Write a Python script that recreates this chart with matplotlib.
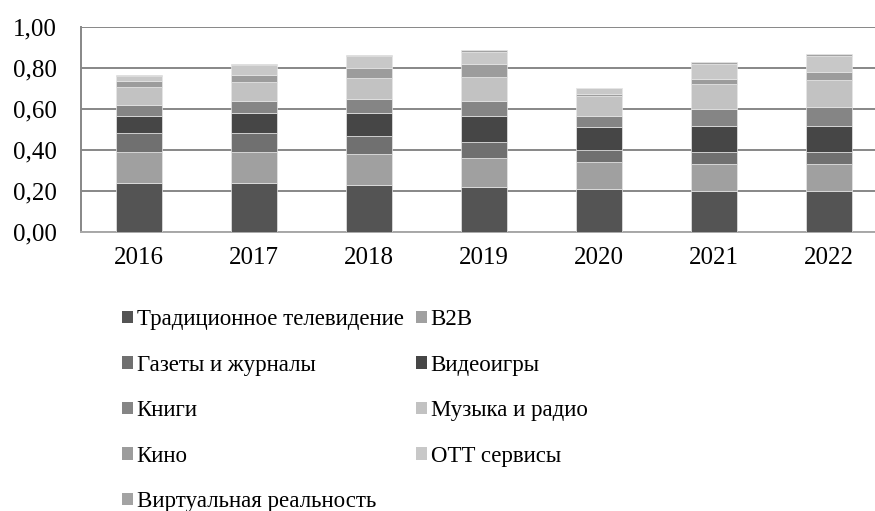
import matplotlib.pyplot as plt
import numpy as np
from matplotlib.patches import Patch

plt.rcParams['font.family'] = ['Liberation Serif', 'DejaVu Serif']

years = ['2016', '2017', '2018', '2019', '2020', '2021', '2022']

# segment values per year, bottom to top
tv = [0.240, 0.240, 0.228, 0.220, 0.211, 0.199, 0.199]
b2b = [0.152, 0.152, 0.152, 0.140, 0.131, 0.132, 0.132]
press = [0.093, 0.093, 0.090, 0.078, 0.059, 0.057, 0.057]
games = [0.083, 0.095, 0.109, 0.127, 0.109, 0.131, 0.131]
books = [0.052, 0.060, 0.069, 0.073, 0.057, 0.080, 0.090]
music = [0.090, 0.090, 0.103, 0.119, 0.095, 0.122, 0.134]
cinema = [0.029, 0.038, 0.051, 0.061, 0.010, 0.026, 0.036]
ott = [0.024, 0.049, 0.055, 0.060, 0.031, 0.073, 0.082]
vr = [0.002, 0.002, 0.007, 0.010, 0.002, 0.008, 0.008]

series = [
    ('Традиционное телевидение', tv, '#545454'),
    ('B2B', b2b, '#a0a0a0'),
    ('Газеты и журналы', press, '#707070'),
    ('Видеоигры', games, '#464646'),
    ('Книги', books, '#858585'),
    ('Музыка и радио', music, '#c2c2c2'),
    ('Кино', cinema, '#9c9c9c'),
    ('OTT сервисы', ott, '#c8c8c8'),
    ('Виртуальная реальность', vr, '#a3a3a3'),
]

fig = plt.figure(figsize=(8.75, 5.11), dpi=100)
ax = fig.add_axes([0.0931, 0.546, 0.92, 0.401])

x = np.arange(len(years))
bottom = np.zeros(len(years))
handles = []
for name, vals, col in series:
    ax.bar(x, vals, 0.4, bottom=bottom, color=col, edgecolor='#e6e6e6', linewidth=0.5, zorder=3)
    bottom += np.array(vals)
    handles.append(Patch(facecolor=col, label=name))

ax.set_xlim(-0.5, len(years) - 0.5)
ax.set_ylim(0, 1.0)
ax.set_yticks(np.arange(0, 1.01, 0.2))
ax.set_yticklabels(['{:.2f}'.format(v).replace('.', ',') for v in np.arange(0, 1.01, 0.2)])
ax.set_xticks(x)
ax.set_xticklabels(years)
ax.tick_params(axis='both', length=0, labelsize=18)
ax.tick_params(axis='y', pad=18)
ax.tick_params(axis='x', pad=11)
ax.yaxis.grid(True, color='#878787', linewidth=1.4, zorder=0)
for s in ['top', 'right']:
    ax.spines[s].set_visible(False)
ax.spines['left'].set_color('#878787')
ax.spines['bottom'].set_color('#a8a8a8')
ax.spines['left'].set_linewidth(1.4)
ax.spines['bottom'].set_linewidth(1.4)

# legend filled row by row in the original, matplotlib fills by column
order = [0, 2, 4, 6, 8, 1, 3, 5, 7]
fig.legend([handles[i] for i in order], [handles[i].get_label() for i in order],
           ncol=2, loc='upper left', bbox_to_anchor=(0.139, 0.395),
           frameon=False, fontsize=16.5, handlelength=0.48, handleheight=0.48,
           handletextpad=0.18, columnspacing=0.52, labelspacing=1.07,
           borderpad=0, borderaxespad=0)

fig.savefig('out.png', dpi=100)
